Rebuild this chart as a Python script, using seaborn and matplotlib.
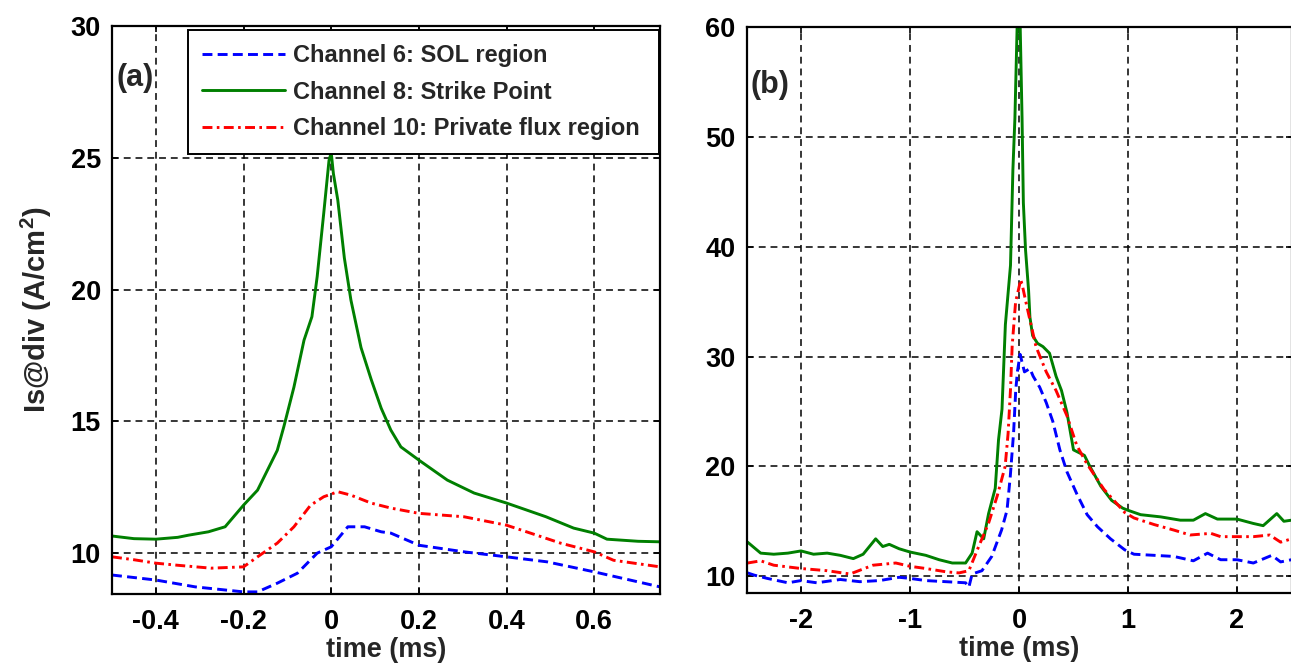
import numpy as np
import pandas as pd
import matplotlib
matplotlib.use("Agg")
import matplotlib.pyplot as plt
import seaborn as sns

# ---------------- data: panel (a) ----------------
a_ch8_t = [-0.5, -0.45, -0.4, -0.35, -0.326, -0.28, -0.242, -0.2, -0.168, -0.123, -0.108, -0.085,
           -0.062, -0.044, -0.032, -0.017, -0.005, 0.0, 0.005, 0.015, 0.03, 0.045, 0.068, 0.091,
           0.114, 0.136, 0.159, 0.2, 0.265, 0.326, 0.4, 0.49, 0.553, 0.6, 0.629, 0.7, 0.75]
a_ch8_v = [10.65, 10.55, 10.53, 10.6, 10.68, 10.81, 11.0, 11.82, 12.39, 13.9, 14.8, 16.3,
           18.08, 18.97, 20.49, 22.9, 24.9, 25.2, 24.4, 23.4, 21.2, 19.6, 17.8, 16.6,
           15.5, 14.67, 14.03, 13.53, 12.77, 12.28, 11.9, 11.38, 10.95, 10.76, 10.53, 10.45, 10.43]

a_ch10_t = [-0.5, -0.45, -0.4, -0.35, -0.274, -0.2, -0.168, -0.123, -0.085, -0.047, -0.017, 0.015,
            0.045, 0.091, 0.136, 0.2, 0.303, 0.4, 0.4545, 0.523, 0.6, 0.644, 0.75]
a_ch10_v = [9.86, 9.75, 9.62, 9.54, 9.43, 9.48, 9.86, 10.38, 11.0, 11.82, 12.14, 12.33,
            12.2, 11.9, 11.71, 11.51, 11.38, 11.06, 10.76, 10.38, 10.05, 9.73, 9.48]

a_ch6_t = [-0.5, -0.4, -0.31, -0.2, -0.168, -0.123, -0.077, -0.032, 0.0, 0.038, 0.076, 0.114,
           0.136, 0.2, 0.303, 0.4, 0.4925, 0.6, 0.75]
a_ch6_v = [9.17, 8.98, 8.72, 8.53, 8.53, 8.86, 9.24, 10.0, 10.24, 11.0, 11.0, 10.81,
           10.76, 10.3, 10.05, 9.86, 9.67, 9.29, 8.72]

# ---------------- data: panel (b) ----------------
b_ch8_t = [-2.49, -2.37, -2.25, -2.12, -2.0, -1.885, -1.76, -1.64, -1.52, -1.43, -1.315, -1.25,
           -1.19, -1.1, -1.0, -0.855, -0.733, -0.612, -0.49, -0.43, -0.385, -0.324, -0.279, -0.218,
           -0.188, -0.156, -0.125, -0.078, -0.056, -0.0375, -0.016, 0.0, 0.01, 0.028, 0.04, 0.06,
           0.088, 0.1, 0.125, 0.17, 0.22, 0.28, 0.34, 0.39, 0.44, 0.5, 0.6, 0.65, 0.75, 0.85,
           0.95, 1.0, 1.116, 1.3, 1.48, 1.6, 1.71, 1.82, 2.0, 2.15, 2.24, 2.365, 2.43, 2.5]
b_ch8_v = [13.1, 12.1, 12.0, 12.1, 12.3, 12.0, 12.1, 11.9, 11.6, 12.0, 13.4, 12.7,
           12.9, 12.5, 12.2, 11.9, 11.5, 11.2, 11.2, 12.1, 14.05, 13.4, 15.7, 18.0,
           22.4, 25.2, 32.9, 38.3, 47.0, 51.7, 60.5, 63.0, 60.5, 51.7, 44.0, 39.7,
           36.0, 33.6, 31.9, 31.2, 30.9, 30.3, 28.2, 26.9, 24.9, 21.5, 21.0, 20.0, 18.2, 16.9,
           16.2, 16.0, 15.6, 15.4, 15.1, 15.1, 15.7, 15.2, 15.2, 14.8, 14.6, 15.7, 15.0, 15.1]

b_ch10_t = [-2.49, -2.37, -2.25, -2.0, -1.76, -1.55, -1.34, -1.13, -1.0, -0.855, -0.67, -0.55,
            -0.46, -0.37, -0.28, -0.2, -0.127, -0.1, -0.078, -0.0625, -0.031, -0.016, 0.016, 0.03,
            0.0625, 0.094, 0.156, 0.25, 0.34, 0.44, 0.53, 0.625, 0.78, 0.97, 1.055, 1.24, 1.42,
            1.57, 1.76, 1.85, 2.0, 2.15, 2.3, 2.4, 2.5]
b_ch10_v = [11.2, 11.4, 11.0, 10.7, 10.5, 10.2, 11.0, 11.2, 10.9, 10.7, 10.4, 10.3,
            10.5, 12.7, 14.8, 17.3, 20.0, 23.0, 27.0, 31.0, 35.0, 35.6, 37.0, 36.5,
            35.0, 33.6, 30.9, 28.6, 26.9, 24.6, 21.9, 20.2, 17.9, 15.8, 15.3, 14.7, 14.2,
            13.75, 13.9, 13.6, 13.6, 13.6, 13.75, 13.1, 13.4]

b_ch6_t = [-2.49, -2.43, -2.31, -2.12, -2.0, -1.855, -1.64, -1.46, -1.28, -1.1, -1.0, -0.855,
           -0.67, -0.49, -0.46, -0.43, -0.34, -0.25, -0.16, -0.11, -0.08, -0.05, -0.03, -0.015,
           0.01, 0.05, 0.1, 0.13, 0.19, 0.25, 0.31, 0.375, 0.44, 0.53, 0.625, 0.72, 0.84, 0.97,
           1.055, 1.24, 1.42, 1.6, 1.73, 1.85, 2.0, 2.15, 2.32, 2.4, 2.5]
b_ch6_v = [10.3, 10.1, 9.8, 9.4, 9.6, 9.4, 9.7, 9.5, 9.6, 9.9, 9.8, 9.6,
           9.5, 9.4, 9.0, 10.2, 10.5, 11.8, 14.2, 16.0, 19.1, 23.0, 26.9, 28.6,
           30.2, 28.6, 28.9, 28.2, 27.2, 25.8, 24.1, 21.5, 19.5, 17.5, 15.6, 14.5, 13.4, 12.4,
           12.0, 11.9, 11.8, 11.4, 12.1, 11.5, 11.5, 11.2, 11.9, 11.3, 11.5]

labels = ["Channel 6: SOL region", "Channel 8: Strike Point", "Channel 10: Private flux region"]
colors = ["#0000ff", "#007f00", "#ff0000"]

a_xticks = [-0.4, -0.2, 0, 0.2, 0.4, 0.6]
a_xticklabels = ["-0.4", "-0.2", "0", "0.2", "0.4", "0.6"]
a_yticks = [10, 15, 20, 25, 30]
b_xticks = [-2, -1, 0, 1, 2]
b_xticklabels = ["-2", "-1", "0", "1", "2"]
b_yticks = [10, 20, 30, 40, 50, 60]

xlabel = "time (ms)"
ylabel = "Is@div (A/cm$^\\mathbf{2}$)"

# ---------------- styling ----------------
sns.set_theme(style="white")
plt.rcParams["font.family"] = ["Liberation Sans", "DejaVu Sans"]
plt.rcParams["mathtext.fontset"] = "custom"
plt.rcParams["mathtext.bf"] = "Liberation Sans:bold"
plt.rcParams["mathtext.rm"] = "Liberation Sans"

fig = plt.figure(figsize=(12.91, 6.70), dpi=100)
ax1 = fig.add_axes([112 / 1291, 1 - 594 / 670, (660 - 112) / 1291, (594 - 26) / 670])
ax2 = fig.add_axes([746.5 / 1291, 1 - 593 / 670, (1291.5 - 746.5) / 1291, (593 - 27) / 670])

lw = 2.1
styles = [
    dict(dashes=(3.4, 1.8)),          # dashed blue
    dict(dashes=()),                   # solid green
    dict(dashes=(3.4, 1.5, 0.9, 1.5)), # dash-dot red
]


def draw(ax, series):
    handles = []
    for (t, v), c, st, lab in zip(series, colors, styles, labels):
        df = pd.DataFrame({"t": t, "v": v})
        sns.lineplot(data=df, x="t", y="v", ax=ax, color=c, lw=lw, estimator=None,
                     sort=False, label=lab, legend=False)
        ln = ax.get_lines()[-1]
        if st["dashes"]:
            ln.set_dashes(st["dashes"])
        handles.append(ln)
    return handles


h = draw(ax1, [(a_ch6_t, a_ch6_v), (a_ch8_t, a_ch8_v), (a_ch10_t, a_ch10_v)])
draw(ax2, [(b_ch6_t, b_ch6_v), (b_ch8_t, b_ch8_v), (b_ch10_t, b_ch10_v)])

ax1.set_xlim(-0.5, 0.75)
ax1.set_ylim(8.45, 30)
ax2.set_xlim(-2.5, 2.5)
ax2.set_ylim(8.47, 60)

ax1.set_xticks(a_xticks)
ax1.set_xticklabels(a_xticklabels)
ax1.set_yticks(a_yticks)
ax2.set_xticks(b_xticks)
ax2.set_xticklabels(b_xticklabels)
ax2.set_yticks(b_yticks)

for ax in (ax1, ax2):
    ax.grid(True, color="black", linestyle=(0, (4.5, 3.2)), linewidth=1.1)
    ax.set_axisbelow(True)
    for s in ax.spines.values():
        s.set_color("black")
        s.set_linewidth(1.6)
    ax.tick_params(axis="both", which="both", direction="in", length=4, width=1.2,
                   top=True, right=True, bottom=True, left=True, colors="black")
    ax.tick_params(axis="x", pad=11)
    ax.tick_params(axis="y", pad=8)
    for lab in ax.get_xticklabels() + ax.get_yticklabels():
        lab.set_fontsize(19.5)
        lab.set_fontweight("bold")
    ax.set_xlabel(xlabel, fontsize=19.5, fontweight="bold")
    ax.set_ylabel("")
    ax.xaxis.set_label_coords(0.5, -0.076)

ax1.set_ylabel(ylabel, fontsize=21, fontweight="bold")
ax1.yaxis.set_label_coords(-0.106, 0.5)

ax1.text(0.008, 0.908, "(a)", transform=ax1.transAxes, fontsize=22, fontweight="bold",
         ha="left", va="center")
ax2.text(0.008, 0.897, "(b)", transform=ax2.transAxes, fontsize=22, fontweight="bold",
         ha="left", va="center")

leg = ax1.legend(handles=h, labels=labels, loc="upper left",
                 bbox_to_anchor=(0.1387, 0.3, 0.8595, 0.6935), mode="expand",
                 borderaxespad=0.0, frameon=True, fancybox=False, handlelength=3.5,
                 handletextpad=0.35, labelspacing=0.58, borderpad=0.6,
                 prop={"family": "Liberation Sans", "weight": "bold", "size": 17})
leg.get_frame().set_edgecolor("black")
leg.get_frame().set_linewidth(1.4)
leg.get_frame().set_alpha(1)

fig.savefig("out.png", dpi=100, facecolor="white")
